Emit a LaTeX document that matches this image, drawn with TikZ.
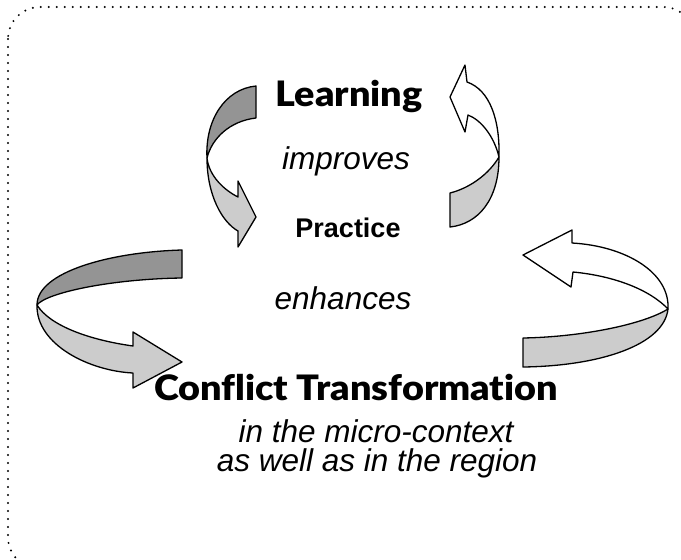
\documentclass[tikz,border=0pt]{standalone}
\usepackage{fontspec}
\setmainfont{Liberation Sans}
\newfontfamily\headfont{Lato Black}[FakeStretch=1.08,Ligatures=NoCommon]
\begin{document}
\begin{tikzpicture}[x=1pt,y=-1pt,
  ribbon/.style={draw=black,line width=1.3pt,line join=round},
  darkface/.style={ribbon,fill=black!42},
  lightface/.style={ribbon,fill=black!20},
  whiteface/.style={ribbon,fill=white},
  lbl/.style={anchor=base,inner sep=0pt},
  ital/.style={lbl,font=\fontsize{31.5}{36}\selectfont\itshape},
  head/.style={lbl,font=\fontsize{35}{40}\selectfont\headfont}]
\useasboundingbox (0,0) rectangle (681,560);
% dotted frame
\draw[line width=2.2pt,line cap=round,dash pattern=on 0pt off 8pt,rounded corners=32pt]
  (8,7) rectangle (695,569);

% upper-left arrow
\path[darkface] (256,86) .. controls (225,89) and (205,120) .. (207,158)
  .. controls (212,138) and (230,121) .. (256,118) -- cycle;
\path[lightface] (207,158) .. controls (207,195) and (222,222) .. (238,231)
  -- (238,247) -- (256,217) -- (238,181) -- (238,197)
  .. controls (224,190) and (209,176) .. (207,158) -- cycle;

% upper-right arrow
\path[lightface] (450,193) -- (450,227) .. controls (478,224) and (499,200) .. (499,157)
  .. controls (489,174) and (470,188) .. (450,193) -- cycle;
\path[whiteface] (499,157) .. controls (500,120) and (490,90) .. (467,82)
  -- (465,65) -- (450,97) -- (465,132) -- (468,115)
  .. controls (481,120) and (494,136) .. (499,157) -- cycle;

% lower-left arrow
\path[darkface] (182,250) .. controls (110,252) and (37,272) .. (37,305)
  .. controls (46,293) and (110,279) .. (182,278) -- cycle;
\path[lightface] (37,305) .. controls (36,345) and (90,371) .. (133,373)
  -- (133,388) -- (182,362) -- (133,332) -- (133,346)
  .. controls (90,340) and (50,326) .. (37,305) -- cycle;

% lower-right arrow
\path[lightface] (523,338) -- (523,367) .. controls (600,366) and (664,345) .. (668,309)
  .. controls (642,325) and (580,337) .. (523,338) -- cycle;
\path[whiteface] (668,309) .. controls (670,272) and (625,246) .. (572,243)
  -- (572,230) -- (523,255) -- (571,287) -- (573,272)
  .. controls (615,276) and (650,290) .. (668,309) -- cycle;

% texts
\node[head] (learning) at (349,106) {Learning};
\node[ital] (improves) at (346,169) {improves};
\node[lbl,font=\fontsize{27}{30}\selectfont\bfseries] (practice) at (348,237) {Practice};
\node[ital] (enhances) at (343,309) {enhances};
\node[head] (conflict) at (356,400) {Conflict Transformation};
\node[ital] (micro) at (376,442) {in the micro-context};
\node[ital] (region) at (377,471) {as well as in the region};
\end{tikzpicture}
\end{document}
